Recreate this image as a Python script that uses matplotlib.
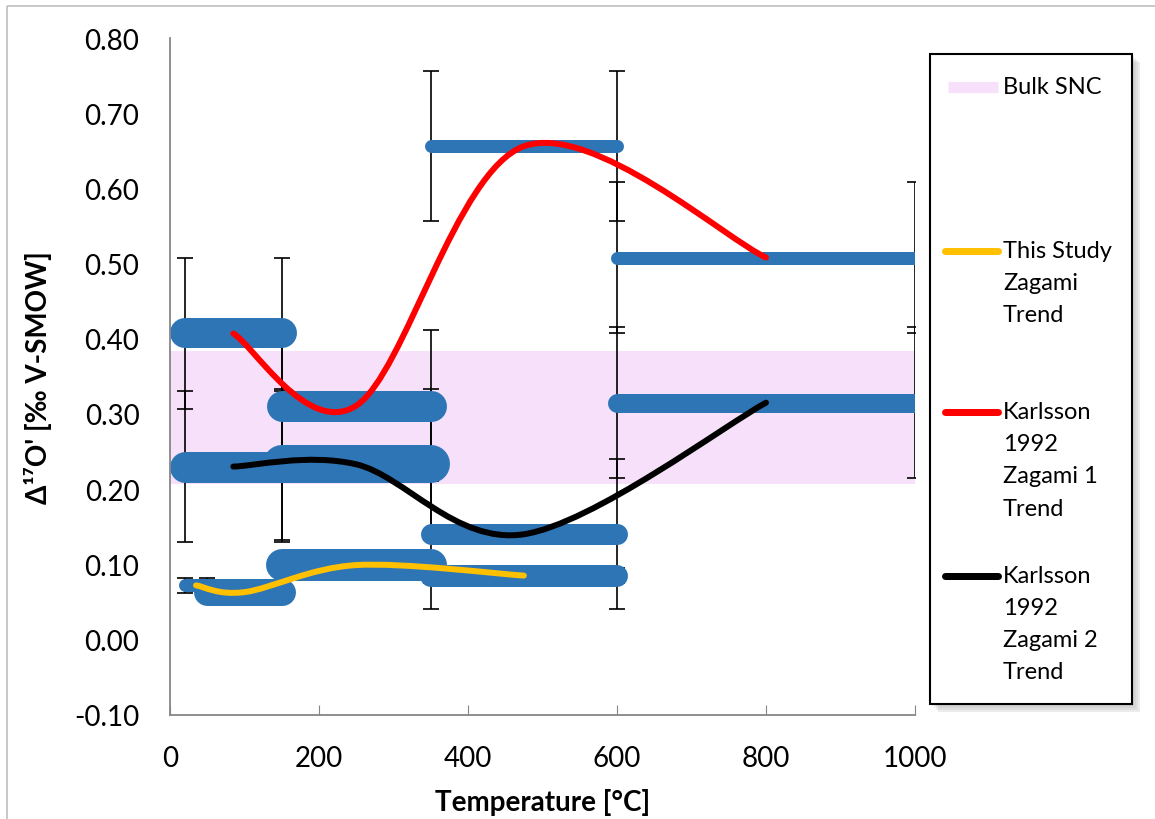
import matplotlib.pyplot as plt
import numpy as np
from matplotlib.path import Path
from matplotlib.patches import PathPatch, Rectangle

plt.rcParams['font.family'] = ['Lato', 'DejaVu Sans']

# heating steps: start / end temperature, value and error
step_lo = [20, 20, 20, 50, 150, 150, 150, 350, 350, 350, 600, 600]
step_hi = [150, 150, 50, 150, 350, 350, 350, 600, 600, 600, 1000, 1000]
step_val = [0.407, 0.230, 0.072, 0.063, 0.311, 0.233, 0.099, 0.656, 0.140, 0.085, 0.508, 0.315]
step_err = [0.10, 0.10, 0.01, 0.01, 0.10, 0.10, 0.01, 0.10, 0.10, 0.01, 0.10, 0.10]
# bar thickness in pixels
step_px = [30, 31, 13, 27, 31, 38, 32, 13, 21, 22, 13, 19]

# trend lines (step midpoints)
yellow_x = [35, 100, 250, 475]
yellow_y = [0.072, 0.063, 0.099, 0.085]
red_x = [85, 250, 475, 800]
red_y = [0.407, 0.311, 0.656, 0.508]
black_x = [85, 250, 475, 800]
black_y = [0.230, 0.233, 0.140, 0.315]

bulk_snc = (0.207, 0.384)

xticks = [0, 200, 400, 600, 800, 1000]
yticks = [-0.10, 0.00, 0.10, 0.20, 0.30, 0.40, 0.50, 0.60, 0.70, 0.80]

BLUE = '#2E75B6'
PINK = '#F6E0FA'


def smooth_path(xs, ys):
    # Excel style smoothed line: bezier with catmull-rom tangents
    pts = np.column_stack([xs, ys]).astype(float)
    n = len(pts)
    verts = [pts[0]]
    codes = [Path.MOVETO]
    for i in range(n - 1):
        p0 = pts[max(i - 1, 0)]
        p1 = pts[i]
        p2 = pts[i + 1]
        p3 = pts[min(i + 2, n - 1)]
        verts += [p1 + (p2 - p0) / 6, p2 - (p3 - p1) / 6, p2]
        codes += [Path.CURVE4] * 3
    return Path(verts, codes)


fig = plt.figure(figsize=(11.55, 8.2), dpi=100)
ax = fig.add_axes([170 / 1155, (820 - 715.7) / 820, 745 / 1155, 676.7 / 820])

ax.axhspan(bulk_snc[0], bulk_snc[1], color=PINK, zorder=0, lw=0)

# error bars at both ends of each step
for lo, hi, v, e in zip(step_lo, step_hi, step_val, step_err):
    ax.errorbar([lo, hi], [v, v], yerr=e, fmt='none', ecolor='black',
                elinewidth=1.2, capsize=6, capthick=1.2, zorder=1)

for lo, hi, v, w in zip(step_lo, step_hi, step_val, step_px):
    ax.plot([lo, hi], [v, v], color=BLUE, lw=w * 0.72,
            solid_capstyle='round', zorder=2)

for xs, ys, c in [(yellow_x, yellow_y, '#FFC000'), (red_x, red_y, '#FF0000'),
                  (black_x, black_y, 'black')]:
    ax.add_patch(PathPatch(smooth_path(xs, ys), fill=False, edgecolor=c,
                           lw=4.3, capstyle='round', zorder=3))

ax.set_xlim(0, 1000)
ax.set_ylim(-0.10, 0.80)
ax.set_xticks(xticks)
ax.set_yticks(yticks)
ax.set_xticklabels([str(t) for t in xticks])
ax.set_yticklabels([f'{t:.2f}' for t in yticks])
ax.tick_params(axis='x', direction='in', length=7, color='#868686',
               labelsize=20, pad=22)
ax.tick_params(axis='y', length=0, labelsize=20, pad=22)
for s in ['top', 'right']:
    ax.spines[s].set_visible(False)
for s in ['left', 'bottom']:
    ax.spines[s].set_color('#868686')
    ax.spines[s].set_linewidth(1.3)

ax.set_xlabel('Temperature [°C]', fontsize=20, fontweight='bold', labelpad=12)
ax.set_ylabel("Δ¹⁷O' [‰ V-SMOW]", fontsize=20, fontweight='bold', labelpad=16)

# legend and frame drawn in pixel coordinates
lax = fig.add_axes([0, 0, 1, 1], zorder=5)
lax.set_xlim(0, 1155)
lax.set_ylim(820, 0)
lax.axis('off')
lax.patch.set_alpha(0)

lax.add_patch(Rectangle((7, 7), 1160, 830, fill=False, edgecolor='#BFBFBF', lw=1.2))
for k, a in enumerate([0.10, 0.10, 0.12, 0.15]):
    d = 9 - 2 * k
    lax.add_patch(Rectangle((930 + 11 - d, 55 + 11 - d), 202, 650, facecolor='gray',
                            edgecolor='none', alpha=a))
lax.add_patch(Rectangle((930, 55), 202, 650, facecolor='white', edgecolor='black', lw=1.5))

entries = [
    (88, PINK, 8, ['Bulk SNC']),
    (252, '#FFC000', 5, ['This Study', 'Zagami', 'Trend']),
    (413, '#FF0000', 5, ['Karlsson', '1992', 'Zagami 1', 'Trend']),
    (577, 'black', 5, ['Karlsson', '1992', 'Zagami 2', 'Trend']),
]
for y, c, w, lines in entries:
    cap = 'butt' if c == PINK else 'round'
    lax.plot([948 if c == PINK else 945, 998], [y, y], color=c, lw=w * 0.72 * 1.4,
             solid_capstyle=cap)
    for i, t in enumerate(lines):
        lax.text(1003, y + 32 * i, t, fontsize=17, va='center', ha='left')

fig.savefig('out.png', dpi=100)
